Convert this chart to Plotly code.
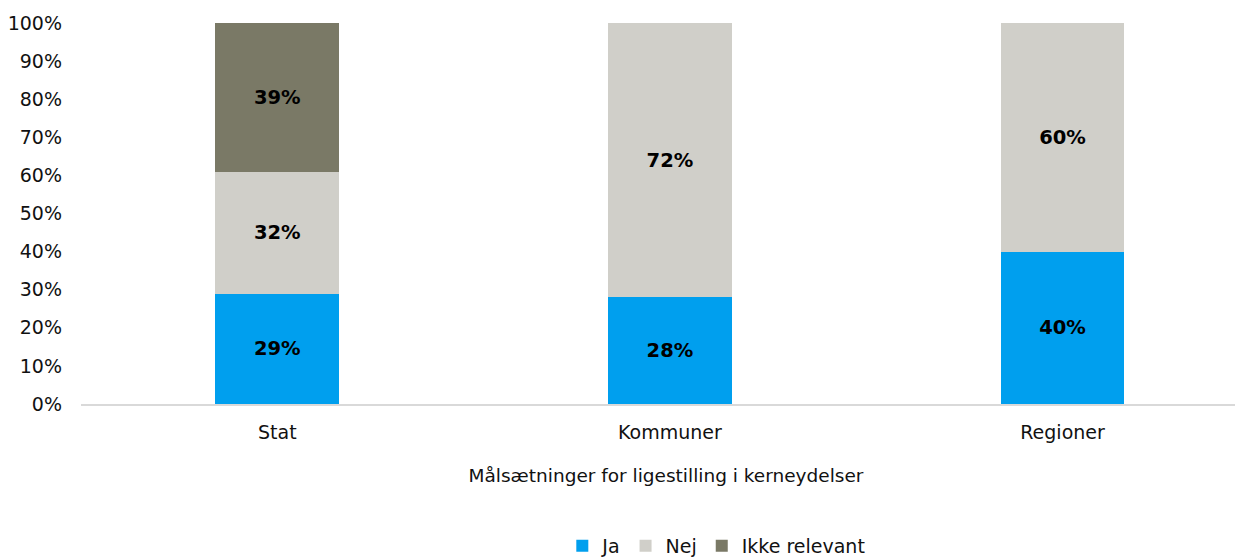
import plotly.graph_objects as go

categories = ["Stat", "Kommuner", "Regioner"]
ja = [29, 28, 40]
nej = [32, 72, 60]
ikke_relevant = [39, 0, 0]

series = [
    ("Ja", ja, "#009FEE"),
    ("Nej", nej, "#D0CFC9"),
    ("Ikke relevant", ikke_relevant, "#7A7966"),
]

fig = go.Figure()
for name, vals, col in series:
    fig.add_trace(
        go.Bar(
            x=categories,
            y=vals,
            name=name,
            marker=dict(color=col, line=dict(width=0)),
            width=0.315,
            text=[f"<b>{v}%</b>" if v > 0 else "" for v in vals],
            textposition="inside",
            insidetextanchor="middle",
            textfont=dict(color="black", size=19.5, family="DejaVu Sans"),
            hoverinfo="skip",
        )
    )

# page body adds an 8px offset, so margins are 8px smaller than the target positions
fig.update_layout(
    barmode="stack",
    width=1243,
    height=557,
    margin=dict(l=73, r=0, t=15, b=156),
    plot_bgcolor="white",
    paper_bgcolor="white",
    font=dict(family="DejaVu Sans", size=19, color="#111111"),
    showlegend=True,
    legend=dict(
        orientation="h",
        x=0.543,
        xanchor="center",
        y=-0.373,
        yanchor="middle",
        font=dict(size=19),
        itemwidth=30,
        traceorder="normal",
    ),
    xaxis=dict(
        range=[-0.5, 2.48],
        automargin=False,
        showline=True,
        linecolor="#D9D9D9",
        linewidth=2,
        ticks="",
        ticklabelstandoff=10,
        title=dict(text="Målsætninger for ligestilling i kerneydelser", standoff=27, font=dict(size=18.5)),
    ),
    yaxis=dict(
        range=[0, 100],
        automargin=False,
        dtick=10,
        ticksuffix="%",
        showgrid=False,
        zeroline=False,
        ticks="",
        ticklabelstandoff=18,
        tickfont=dict(size=19),
    ),
)

fig.write_html("out.html")
